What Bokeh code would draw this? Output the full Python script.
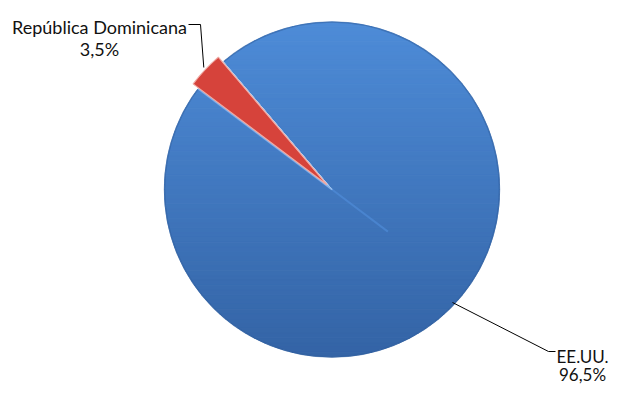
import numpy as np
from bokeh.plotting import figure
from bokeh.models import Range1d
from bokeh.embed import file_html
from bokeh.resources import INLINE
from bokeh.core.properties import value

# ---- data ----
categories = ["EE.UU.", "República Dominicana"]
values = [96.5, 3.5]
slice_colors = ["#3f7cc8", "#d6433b"]

# ---- layout (reference pixel coordinates, y measured upward) ----
REF_H = 394
W, H = 609, 386

p = figure(width=W, height=H, x_range=Range1d(0, W), y_range=Range1d(REF_H - H, REF_H),
           output_backend="svg", toolbar_location=None, min_border=0)
p.axis.visible = False
p.grid.visible = False
p.outline_line_color = None
p.background_fill_color = "white"
p.border_fill_color = "white"

def Y(ref_y):
    return REF_H - ref_y

cx, cy, r = 331.5, Y(189), 167.5
first_angle = 143.0   # degrees, counter-clockwise from 3 o'clock
explode = 7.0

total = sum(values)
fracs = [v / total for v in values]
starts, ends = [], []
a = first_angle
for f in fracs:
    starts.append(a)
    a += f * 360.0
    ends.append(a)

# ---- blue slice with vertical gradient (strips through the circle) ----
top_rgb = np.array([78, 140, 216])
bot_rgb = np.array([52, 100, 166])
n = 70
edges = np.linspace(cy + r, cy - r, n + 1)
xs_list, ys_list, cols = [], [], []
for i in range(n):
    ya, yb = edges[i], edges[i + 1]
    yy = np.linspace(ya, yb, 6)
    half = np.sqrt(np.clip(r**2 - (yy - cy) ** 2, 0, None))
    xs = list(cx + half) + list((cx - half)[::-1])
    ys = list(yy) + list(yy[::-1])
    t = (i + 0.5) / n
    c = (top_rgb * (1 - t) + bot_rgb * t).astype(int)
    xs_list.append(xs)
    ys_list.append(ys)
    cols.append("#%02x%02x%02x" % tuple(c))
p.patches(xs_list, ys_list, fill_color=cols, line_color=cols, line_width=1)

# rim shading
p.circle(x=[cx], y=[cy], radius=r, fill_color=None, line_color="#2f5f9e",
         line_width=1.5, line_alpha=0.55)

# empty slot of the exploded slice
p.wedge(x=[cx], y=[cy], radius=r + 3, start_angle=starts[1], end_angle=ends[1],
        start_angle_units="deg", end_angle_units="deg",
        fill_color="white", line_color="white", line_width=1)

# bevel highlights of the blue slice
ang0 = np.deg2rad(ends[1])  # lower-left edge of the gap
p.line([cx, cx + r * np.cos(ang0)], [cy, cy + r * np.sin(ang0)],
       line_color="#78aae8", line_width=2, line_alpha=0.9)
p.line([cx, cx - 70 * np.cos(ang0)], [cy, cy - 70 * np.sin(ang0)],
       line_color="#5290dc", line_width=2, line_alpha=0.6)
ang1 = np.deg2rad(starts[1])
p.line([cx, cx + r * np.cos(ang1)], [cy, cy + r * np.sin(ang1)],
       line_color="#9cc2ee", line_width=1, line_alpha=0.9)

# red exploded slice
mid = np.deg2rad((starts[1] + ends[1]) / 2)
ex, ey = cx + explode * np.cos(mid), cy + explode * np.sin(mid)
p.wedge(x=[ex], y=[ey], radius=r, start_angle=starts[1], end_angle=ends[1],
        start_angle_units="deg", end_angle_units="deg",
        fill_color=slice_colors[1], line_color="#f0aaa4", line_width=1.2)

# ---- leader lines ----
p.line([188, 200, 203.3], [Y(24), Y(24), Y(67)], line_color="black", line_width=1)
p.line([452, 548, 555], [Y(302), Y(351), Y(351)], line_color="black", line_width=1)

# ---- labels ----
def pct(v):
    return ("%.1f%%" % (v / total * 100)).replace(".", ",")

font = value("Lato")
p.text(x=[99, 99], y=[Y(26), Y(48)], text=[categories[1], pct(values[1])],
       text_align="center", text_baseline="alphabetic",
       text_font=font, text_font_size="18px", text_color="#111111")
p.text(x=[582, 582], y=[Y(356), Y(374)], text=[categories[0], pct(values[0])],
       text_align="center", text_baseline="alphabetic",
       text_font=font, text_font_size="17px", text_color="#111111")

open("out.html", "w").write(file_html(p, INLINE))
